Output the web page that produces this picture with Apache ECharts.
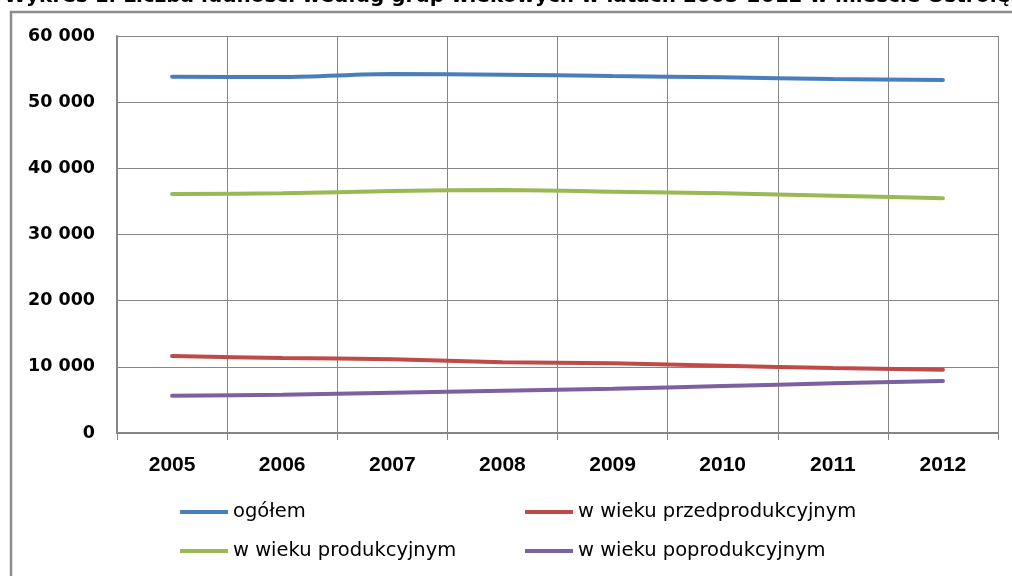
<!DOCTYPE html>
<html>
<head>
<meta charset="utf-8">
<script src="https://cdn.jsdelivr.net/npm/echarts@6/dist/echarts.min.js"></script>
<style>
html,body{margin:0;padding:0;background:#fff;}
#c{width:1012px;height:576px;}
</style>
</head>
<body>
<div id="c"></div>
<script>
const titleText = 'Wykres 1. Liczba ludności według grup wiekowych w latach 2005-2012 w mieście Ostrołęka';
const years = ['2005','2006','2007','2008','2009','2010','2011','2012'];
const seriesNames = ['ogółem','w wieku przedprodukcyjnym','w wieku produkcyjnym','w wieku poprodukcyjnym'];
const ogolem = [53850, 53800, 54250, 54150, 53950, 53750, 53500, 53350];
const przedprodukcyjny = [11640, 11330, 11140, 10680, 10530, 10170, 9820, 9570];
const produkcyjny = [36120, 36220, 36570, 36720, 36470, 36220, 35870, 35470];
const poprodukcyjny = [5640, 5790, 6090, 6400, 6700, 7100, 7510, 7860];
const colors = ['#4a7ebb','#be4b48','#98b954','#7d60a0'];

const chart = echarts.init(document.getElementById('c'), null, {renderer:'canvas'});
const gray = '#868686';
const dataSets = [ogolem, przedprodukcyjny, produkcyjny, poprodukcyjny];
const legendPos = [[180,502],[525,502],[180,541],[525,541]];

chart.setOption({
  animation: false,
  color: colors,
  title: {
    text: titleText, left: 4, top: -13, padding: 0,
    textStyle: {fontFamily:'DejaVu Sans', fontWeight:'bold', fontSize:20, color:'#000'}
  },
  graphic: [{
    type:'rect', shape:{x:11, y:12, width:1200, height:800},
    style:{fill:'none', stroke:'#8c8c8c', lineWidth:2.5}, silent:true, z:-1
  }],
  legend: seriesNames.map((n,i)=>({
    data:[n], left: legendPos[i][0], top: legendPos[i][1],
    icon:'rect', itemWidth:48, itemHeight:4, itemGap:0, padding:0,
    textStyle:{fontFamily:'DejaVu Sans', fontSize:19.5, color:'#000', padding:[0,0,0,0]}
  })),
  grid: {left:117, right:14, top:36, bottom:143, containLabel:false},
  xAxis: {
    type:'category', data: years, boundaryGap:true,
    axisLine:{show:true, lineStyle:{color:gray, width:2}},
    axisTick:{show:true, length:7, lineStyle:{color:gray, width:1}},
    splitLine:{show:true, lineStyle:{color:gray, width:1}},
    axisLabel:{fontFamily:'Liberation Sans', fontWeight:'bold', fontSize:21, color:'#000', margin:22}
  },
  yAxis: {
    type:'value', min:0, max:60000, interval:10000,
    axisLine:{show:true, lineStyle:{color:gray, width:2}},
    axisTick:{show:false},
    splitLine:{show:true, lineStyle:{color:gray, width:1}},
    axisLabel:{fontFamily:'DejaVu Sans', fontWeight:'bold', fontSize:17.5, color:'#000', margin:22,
      formatter: v => v === 0 ? '0' : String(v).replace(/\B(?=(\d{3})+(?!\d))/g, ' ')}
  },
  series: seriesNames.map((n,i)=>({
    name:n, type:'line', data:dataSets[i], smooth:0.3, showSymbol:false, symbol:'none',
    lineStyle:{width:4, color:colors[i], cap:'round'}, itemStyle:{color:colors[i]}
  }))
});
</script>
</body>
</html>
